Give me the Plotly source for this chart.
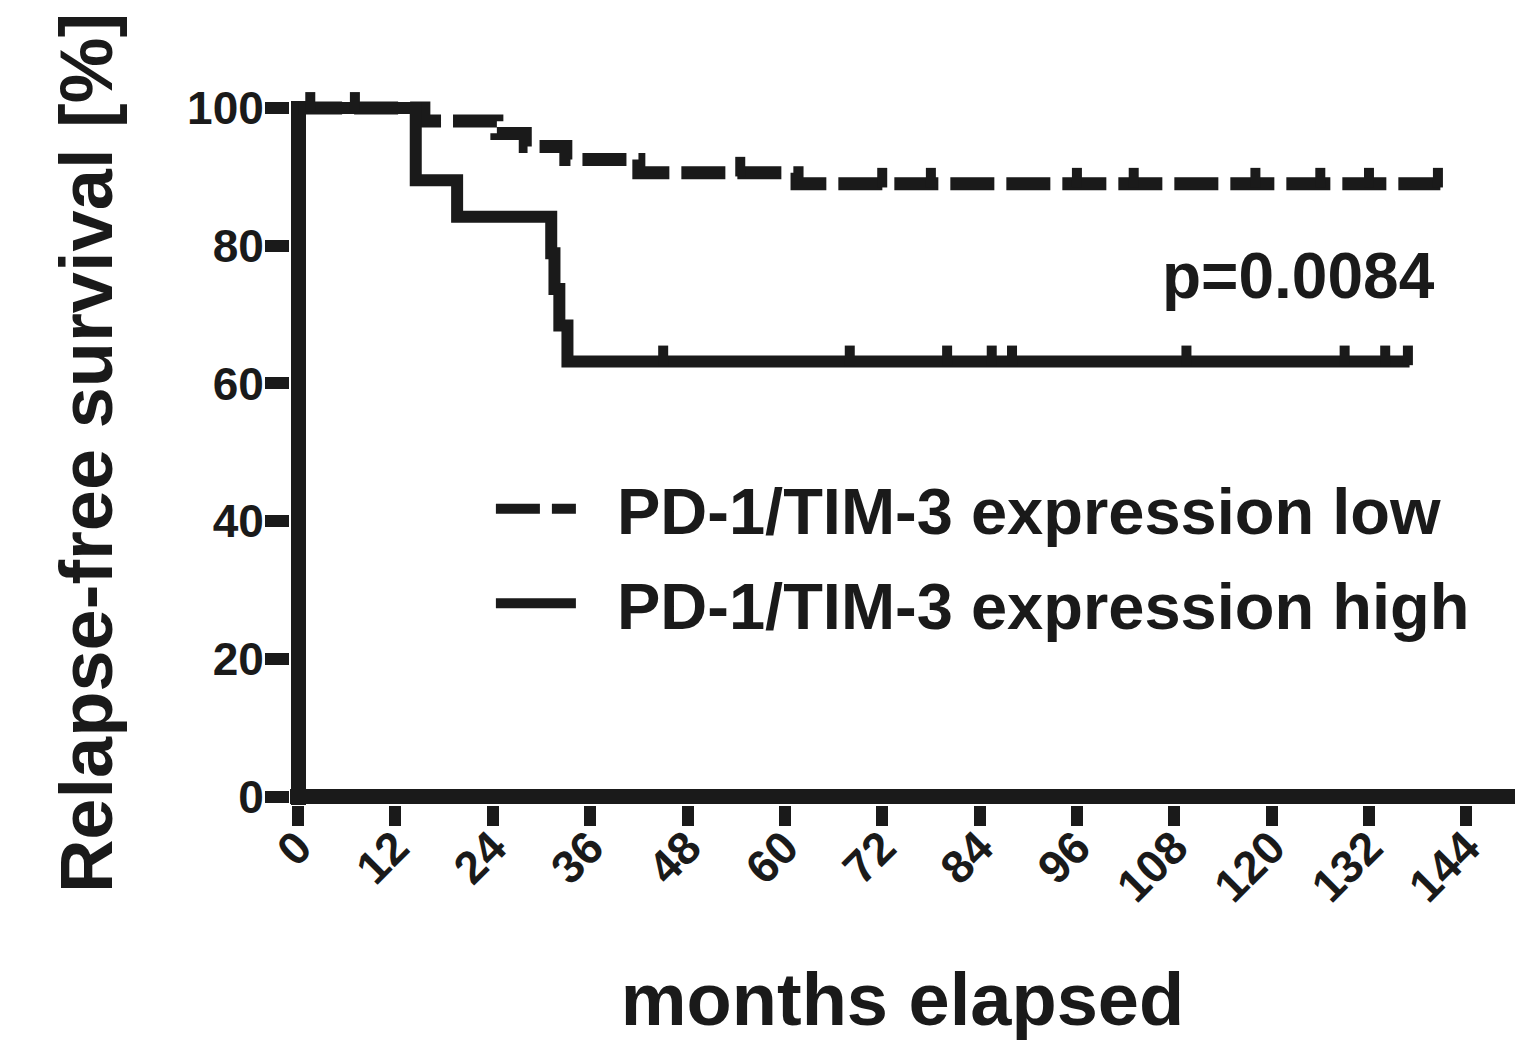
import numpy as np
import plotly.graph_objects as go

# ---- data ----
low_t = [0, 15.5, 24.5, 28.0, 33.0, 42.0, 61.5, 140.8]
low_s = [100, 98.1, 96.3, 94.4, 92.5, 90.6, 89.0, 89.0]
low_censor_t = [1.5, 7.0, 54.5, 72.0, 78.0, 96.0, 103.0, 118.0, 126.0, 132.0, 140.5]

high_t = [0, 14.5, 19.6, 31.2, 31.6, 32.2, 33.2, 137.0]
high_s = [100, 89.5, 84.2, 78.9, 73.7, 68.4, 63.2, 63.2]
high_censor_t = [45.0, 68.0, 80.0, 85.5, 88.0, 109.5, 129.0, 134.0, 136.8]

x_ticks = [0, 12, 24, 36, 48, 60, 72, 84, 96, 108, 120, 132, 144]
y_ticks = [0, 20, 40, 60, 80, 100]

labels = ["PD-1/TIM-3 expression low", "PD-1/TIM-3 expression high"]
p_text = "p=0.0084"

INK = "#1a1a1a"
FONT = "Liberation Sans, Arial, sans-serif"
GAP = "\u00a0\u00a0"


def step_value(ts, ss, t):
    idx = np.searchsorted(np.array(ts), t, side="right") - 1
    return ss[max(idx, 0)]


low_censor_s = [step_value(low_t, low_s, t) for t in low_censor_t]
high_censor_s = [step_value(high_t, high_s, t) for t in high_censor_t]

fig = go.Figure()

fig.add_trace(go.Scatter(
    x=low_t, y=low_s, mode="lines", line_shape="hv",
    line=dict(color=INK, width=13, dash="44px,12px"),
    name=GAP + labels[0], legendgroup="low",
))
fig.add_trace(go.Scatter(
    x=high_t, y=high_s, mode="lines", line_shape="hv",
    line=dict(color=INK, width=12),
    name=GAP + labels[1], legendgroup="high",
))
for ct, cs in [(low_censor_t, low_censor_s), (high_censor_t, high_censor_s)]:
    fig.add_trace(go.Scatter(
        x=ct, y=cs, mode="markers", showlegend=False, hoverinfo="skip",
        marker=dict(symbol="line-ns", size=14, angle=180, standoff=6,
                    line=dict(color=INK, width=10), color=INK),
        cliponaxis=False,
    ))

fig.add_annotation(
    x=140.4, y=75.6, xref="x", yref="y", text=p_text, showarrow=False,
    xanchor="right", yanchor="middle",
    font=dict(family=FONT, size=64, color=INK, weight="bold"),
)

fig.update_layout(
    width=1524, height=1035,
    margin=dict(l=282, r=17, t=93, b=238),
    paper_bgcolor="white", plot_bgcolor="white",
    font=dict(family=FONT, color=INK, weight="bold"),
    showlegend=True,
    legend=dict(
        x=0.164, y=0.49, xanchor="left", yanchor="top",
        xref="paper", yref="paper",
        font=dict(family=FONT, size=65, color=INK, weight="bold"),
        itemwidth=80, bgcolor="rgba(0,0,0,0)", borderwidth=0,
        traceorder="grouped", tracegroupgap=7,
    ),
)

fig.update_xaxes(
    range=[-1, 150], tickvals=x_ticks, ticktext=[str(v) for v in x_ticks],
    tickangle=-45, showgrid=False,
    showline=False, zeroline=True, zerolinecolor=INK, zerolinewidth=15,
    ticks="outside", ticklen=20, tickwidth=12, tickcolor=INK,
    ticklabelstandoff=-24, ticklabelshift=0,
    tickfont=dict(family=FONT, size=46, color=INK, weight="bold"),
    title=dict(text="months elapsed", standoff=62,
               font=dict(family=FONT, size=74, color=INK, weight="bold")),
    automargin=False,
)
fig.update_yaxes(
    range=[-1.2, 101], tickvals=y_ticks, ticktext=[str(v) for v in y_ticks],
    showgrid=False,
    showline=False, zeroline=True, zerolinecolor=INK, zerolinewidth=15,
    ticks="outside", ticklen=24, tickwidth=12, tickcolor=INK,
    ticklabelstandoff=-8,
    tickfont=dict(family=FONT, size=46, color=INK, weight="bold"),
    title=dict(text="Relapse-free survival [%]", standoff=50,
               font=dict(family=FONT, size=74, color=INK, weight="bold")),
    automargin=False,
)

fig.write_html("out.html")
